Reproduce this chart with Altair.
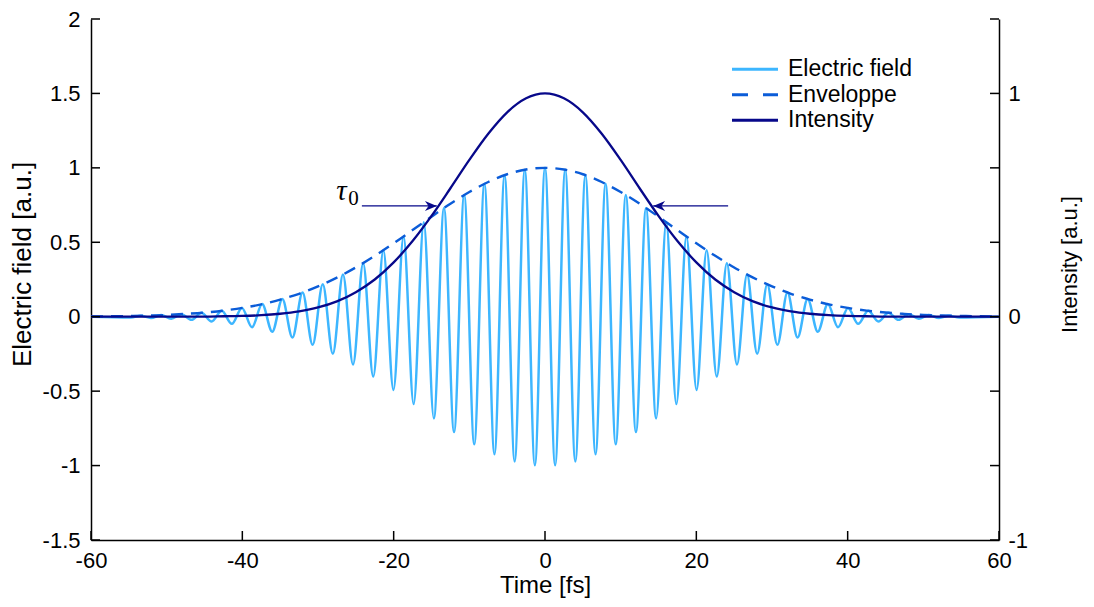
import altair as alt
import pandas as pd

# ---------------- data (t >= 0 half; the pulse is symmetric) -------------
# electric field: times and values of its successive maxima / minima
field_t = [0, 1.34, 2.67, 4.01, 5.34, 6.68, 8.01, 9.35, 10.68, 12.02, 13.35, 14.69, 16.02,
           17.36, 18.69, 20.03, 21.36, 22.70, 24.03, 25.37, 26.70, 28.04, 29.37, 30.71, 32.04,
           33.38, 34.71, 36.05, 37.38, 38.72, 40.05, 41.39, 42.72, 44.06, 45.39, 46.73, 48.06,
           49.40, 50.73, 52.07, 53.40, 54.74]
field_v = [1.000, -0.997, 0.987, -0.972, 0.951, -0.924, 0.893, -0.857, 0.817, -0.775, 0.730,
           -0.683, 0.635, -0.587, 0.539, -0.492, 0.446, -0.402, 0.360, -0.321, 0.284, -0.249,
           0.218, -0.189, 0.163, -0.140, 0.119, -0.101, 0.085, -0.071, 0.059, -0.048, 0.040,
           -0.032, 0.026, -0.021, 0.017, -0.013, 0.011, -0.008, 0.006, -0.005]
field_end_t = [60]
field_end_v = [0]

# envelope and intensity (intensity given in left-axis units: 1.5 = 1 on right axis)
env_t = [0, 2.5, 5, 7.5, 10, 12.5, 15, 17.5, 20, 22.5, 25, 27.5, 30, 32.5, 35, 37.5, 40,
         42.5, 45, 47.5, 50, 52.5, 55, 57.5, 60]
env_v = [1.000, 0.989, 0.957, 0.905, 0.838, 0.759, 0.672, 0.582, 0.493, 0.409, 0.331, 0.263,
         0.204, 0.154, 0.115, 0.083, 0.059, 0.041, 0.028, 0.019, 0.012, 0.008, 0.005, 0.003,
         0.002]
int_v = [1.500, 1.467, 1.373, 1.229, 1.053, 0.863, 0.677, 0.508, 0.365, 0.250, 0.165, 0.103,
         0.062, 0.036, 0.020, 0.010, 0.005, 0.003, 0.001, 0.001, 0, 0, 0, 0, 0]

series_names = ["Electric field", "Enveloppe", "Intensity"]
x_ticks = [-60, -40, -20, 0, 20, 40, 60]
y_ticks = [-1.5, -1, -0.5, 0, 0.5, 1, 1.5, 2]
right_tick_pos = [-1.5, 0, 1.5]
right_tick_text = ["-1", "0", "1"]

# tau_0 annotation (data coordinates)
arrow_tail = [-24.2, 24.2]
arrow_tip = [-14.3, 14.3]
arrow_level = 0.744
tau_pos = (-26.2, 0.784)
sub_pos = (-26.0, 0.748)


def mirror(ts, vs):
    return [-t for t in ts[:0:-1]] + ts, vs[:0:-1] + vs


ft, fv = mirror(field_t, field_v)
ft = [-field_end_t[0]] + ft + field_end_t
fv = field_end_v + fv + field_end_v
et, ev = mirror(env_t, env_v)
_, iv = mirror(env_t, int_v)

df_field = pd.DataFrame({"t": ft, "v": fv})
df_env = pd.DataFrame({"t": et, "v": ev})
df_int = pd.DataFrame({"t": et, "v": iv})

# ---------------- styling ----------------
W, H = 908, 521
FONT = "Liberation Sans"
C_FIELD = "#3db6ff"
C_ENV = "#0b5cd8"
C_INT = "#07088a"
TICK = 9

xs = alt.Scale(domain=[-60, 60], nice=False, zero=False)
ys = alt.Scale(domain=[-1.5, 2], nice=False, zero=False)

common = dict(ticks=False, grid=False, domainColor="black", domainWidth=1.5,
              labelFont=FONT, labelFontSize=22, labelColor="black", labelOverlap=False,
              labelFlush=False, titleFont=FONT, titleFontWeight="normal", titleColor="black")

x_axis = alt.Axis(values=x_ticks, labelExpr="'' + datum.value", labelPadding=10,
                  title="Time [fs]", titleFontSize=24, titleX=W / 2, titleY=45,
                  titleAlign="center", titleBaseline="middle", orient="bottom", **common)
left_axis = alt.Axis(values=y_ticks, labelExpr="'' + datum.value", labelPadding=11,
                     title="Electric field [a.u.]", titleFontSize=26, titleX=-69, titleY=245,
                     titleAngle=270, titleAlign="center", titleBaseline="middle",
                     orient="left", **common)
rmap = " : ".join(f"datum.value == {p} ? '{s}'" for p, s in zip(right_tick_pos, right_tick_text))
right_axis = alt.Axis(values=right_tick_pos, labelExpr=rmap + " : ''", labelPadding=9,
                      title="Intensity [a.u.]", titleFontSize=22, titleX=70, titleY=245,
                      titleAngle=270, titleAlign="center", titleBaseline="middle",
                      orient="right", **common)

X = lambda f: alt.X(f"{f}:Q", scale=xs, axis=x_axis)
Y = lambda f, ax=None: alt.Y(f"{f}:Q", scale=ys, axis=ax)

field_line = alt.Chart(df_field).mark_line(color=C_FIELD, strokeWidth=2.5, interpolate="monotone").encode(
    x=X("t"), y=Y("v", left_axis))
env_line = alt.Chart(df_env).mark_line(color=C_ENV, strokeWidth=2.4, strokeDash=[12, 8],
                                       interpolate="monotone").encode(x=X("t"), y=Y("v"))
int_line = alt.Chart(df_int).mark_line(color=C_INT, strokeWidth=2.3, interpolate="monotone").encode(
    x=X("t"), y=Y("v", right_axis))

# inward ticks
xt = alt.Chart(pd.DataFrame({"t": x_ticks})).mark_rule(color="black", strokeWidth=1.5).encode(
    x=X("t"), y=alt.value(H), y2=alt.value(H - TICK))
lt = alt.Chart(pd.DataFrame({"v": y_ticks})).mark_rule(color="black", strokeWidth=1.5).encode(
    y=Y("v"), x=alt.value(0), x2=alt.value(TICK))
rt = alt.Chart(pd.DataFrame({"v": y_ticks})).mark_rule(color="black", strokeWidth=1.5).encode(
    y=Y("v"), x=alt.value(W - TICK), x2=alt.value(W))

# tau_0 arrows
df_arrow = pd.DataFrame({"t0": arrow_tail, "t1": arrow_tip, "v": [arrow_level] * 2})
arrows = alt.Chart(df_arrow).mark_rule(color=C_INT, strokeWidth=1.3).encode(
    x=X("t0"), x2="t1", y=Y("v"))
head_r = alt.Chart(pd.DataFrame({"t": [arrow_tip[0]], "v": [arrow_level]})).mark_point(
    shape="M0,0L-1,-0.42L-0.7,0L-1,0.42Z", size=560, filled=True, color=C_INT, opacity=1,
    strokeWidth=0).encode(x=X("t"), y=Y("v"))
head_l = alt.Chart(pd.DataFrame({"t": [arrow_tip[1]], "v": [arrow_level]})).mark_point(
    shape="M0,0L1,-0.42L0.7,0L1,0.42Z", size=560, filled=True, color=C_INT, opacity=1,
    strokeWidth=0).encode(x=X("t"), y=Y("v"))
tau = alt.Chart(pd.DataFrame({"t": [tau_pos[0]], "v": [tau_pos[1]], "s": ["τ"]})).mark_text(
    font="Liberation Serif", fontStyle="italic", fontSize=29, align="right", baseline="alphabetic",
    color="black").encode(x=X("t"), y=Y("v"), text="s:N")
sub = alt.Chart(pd.DataFrame({"t": [sub_pos[0]], "v": [sub_pos[1]], "s": ["0"]})).mark_text(
    font="Liberation Serif", fontSize=21, align="left", baseline="alphabetic",
    color="black").encode(x=X("t"), y=Y("v"), text="s:N")

# legend (manual)
leg_rows = [50.3, 75.7, 101.3]
leg_styles = [dict(color=C_FIELD), dict(color=C_ENV, strokeDash=[16, 15]), dict(color=C_INT)]
legend_layers = []
for name, ry, st in zip(series_names, leg_rows, leg_styles):
    d = pd.DataFrame({"name": [name]})
    legend_layers.append(alt.Chart(d).mark_rule(strokeWidth=3, **st).encode(
        x=alt.value(641), x2=alt.value(687), y=alt.value(ry)))
    legend_layers.append(alt.Chart(d).mark_text(font=FONT, fontSize=23, align="left",
                                                baseline="middle", color="black").encode(
        x=alt.value(697), y=alt.value(ry), text="name:N"))

chart = alt.layer(
    field_line, env_line, int_line, xt, lt, rt, arrows, head_r, head_l, tau, sub, *legend_layers
).resolve_axis(y="independent").properties(
    width=W, height=H, autosize=alt.AutoSizeParams(type="none"),
    padding={"left": 83, "top": 11, "right": 87, "bottom": 59}, background="white"
).configure_view(stroke=None)

chart.save("out.html", embed_options={"renderer": "svg", "actions": False})
